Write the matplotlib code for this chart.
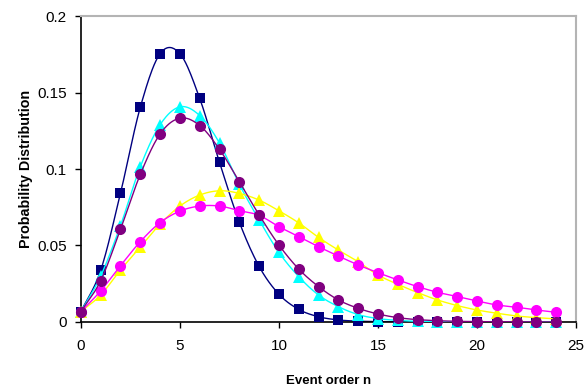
import numpy as np
import matplotlib
matplotlib.use("Agg")
import matplotlib.pyplot as plt

n = list(range(25))

navy = [0.0067, 0.0337, 0.0842, 0.1404, 0.1755, 0.1755, 0.1462, 0.1044, 0.0653, 0.0363,
        0.0181, 0.0082, 0.0034, 0.0013, 0.0005, 0.0002, 0.0001, 0.0, 0.0, 0.0,
        0.0, 0.0, 0.0, 0.0, 0.0]
cyan = [0.0067, 0.030, 0.063, 0.1015, 0.129, 0.1407, 0.135, 0.117, 0.090, 0.0667,
        0.0455, 0.0296, 0.0176, 0.0100, 0.0048, 0.0022, 0.0010, 0.0004, 0.0002, 0.0001,
        0.0, 0.0, 0.0, 0.0, 0.0]
purple = [0.0067, 0.027, 0.0606, 0.0965, 0.123, 0.1333, 0.1285, 0.1129, 0.0917, 0.0700,
          0.0503, 0.0346, 0.0231, 0.0144, 0.0089, 0.0052, 0.0028, 0.0015, 0.0008, 0.0004,
          0.0002, 0.0001, 0.0001, 0.0, 0.0]
yellow = [0.0067, 0.0176, 0.034, 0.049, 0.064, 0.0758, 0.083, 0.0858, 0.0841, 0.0797,
          0.0727, 0.0648, 0.0553, 0.047, 0.0394, 0.0307, 0.0246, 0.0192, 0.0144, 0.0107,
          0.0078, 0.0057, 0.0039, 0.0028, 0.0020]
magenta = [0.0067, 0.0203, 0.0368, 0.0525, 0.065, 0.0725, 0.0758, 0.0758, 0.0728, 0.0697,
           0.0623, 0.0558, 0.0492, 0.0431, 0.0373, 0.0322, 0.0275, 0.0231, 0.0194, 0.0166,
           0.0137, 0.0111, 0.0096, 0.0078, 0.0063]

x_ticks = [0, 5, 10, 15, 20, 25]
y_ticks = [0, 0.05, 0.1, 0.15, 0.2]
y_ticklabels = ["0", "0.05", "0.1", "0.15", "0.2"]


def catmull_rom(x, y, steps=20):
    x = np.asarray(x, float)
    y = np.asarray(y, float)
    px = np.concatenate([[2 * x[0] - x[1]], x, [2 * x[-1] - x[-2]]])
    py = np.concatenate([[2 * y[0] - y[1]], y, [2 * y[-1] - y[-2]]])
    xs, ys = [], []
    t = np.linspace(0, 1, steps, endpoint=False)
    for i in range(1, len(px) - 2):
        for p, out in ((px, xs), (py, ys)):
            p0, p1, p2, p3 = p[i - 1], p[i], p[i + 1], p[i + 2]
            out.extend(0.5 * ((2 * p1) + (-p0 + p2) * t +
                              (2 * p0 - 5 * p1 + 4 * p2 - p3) * t ** 2 +
                              (-p0 + 3 * p1 - 3 * p2 + p3) * t ** 3))
    xs.append(x[-1])
    ys.append(y[-1])
    return np.array(xs), np.array(ys)


plt.rcParams['font.family'] = ['Liberation Sans', 'DejaVu Sans']

fig = plt.figure(figsize=(5.86, 3.86), dpi=100)
ax = fig.add_axes([0.138, 0.166, 0.845, 0.792])

series = [
    (navy, "#000080", "s", 7),
    (cyan, "#00FFFF", "^", 8),
    (yellow, "#FFFF00", "^", 8),
    (magenta, "#FF00FF", "o", 8),
    (purple, "#800080", "o", 8),
]
for i, (vals, col, mk, ms) in enumerate(series):
    sx, sy = catmull_rom(n, vals)
    ax.plot(sx, sy, color=col, lw=1.0, zorder=2 + 2 * i)
    ax.plot(n, vals, linestyle="none", marker=mk, color=col, markersize=ms,
            markeredgewidth=0, zorder=3 + 2 * i, clip_on=False)

ax.set_xlim(0, 25)
ax.set_ylim(0, 0.2)
ax.set_xticks(x_ticks)
ax.set_yticks(y_ticks)
ax.set_yticklabels(y_ticklabels)
ax.tick_params(axis="both", labelsize=11, direction="out", length=4, width=1, color="black")
ax.tick_params(axis="x", pad=8)
ax.tick_params(axis="y", pad=6)

for s in ("top", "right"):
    ax.spines[s].set_color("#b4b4b4")
    ax.spines[s].set_linewidth(1.5)
for s in ("left", "bottom"):
    ax.spines[s].set_color("black")
    ax.spines[s].set_linewidth(1.2)

ax.set_xlabel("Event order n", fontsize=9.5, fontweight="bold", labelpad=16)
ax.set_ylabel("Probability Distribution", fontsize=10.3, fontweight="bold", labelpad=3)

fig.savefig("out.png", dpi=100)
